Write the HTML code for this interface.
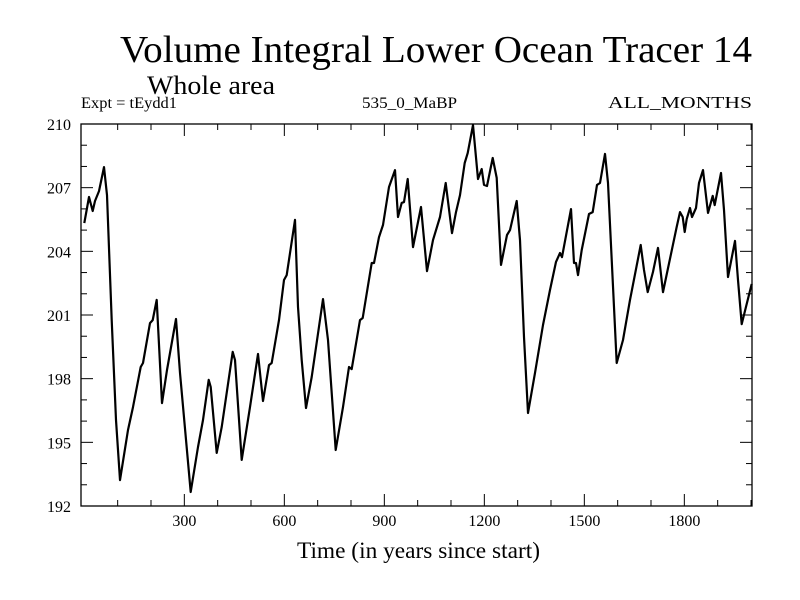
<!DOCTYPE html>
<html><head><meta charset="utf-8"><style>
html,body{margin:0;padding:0;background:#fff}
svg{display:block;font-family:"Liberation Serif",serif}
</style></head><body>
<svg id="chart" width="800" height="600" viewBox="0 0 800 600" xmlns="http://www.w3.org/2000/svg">
<rect x="0" y="0" width="800" height="600" fill="#fff"/>
<text x="120" y="62" textLength="632" lengthAdjust="spacingAndGlyphs" font-size="38">Volume Integral Lower Ocean Tracer 14</text>
<text x="147" y="94" textLength="128" lengthAdjust="spacingAndGlyphs" font-size="26">Whole area</text>
<text x="81" y="108" textLength="96" lengthAdjust="spacingAndGlyphs" font-size="16">Expt = tEydd1</text>
<text x="362" y="108" textLength="95" lengthAdjust="spacingAndGlyphs" font-size="16">535_0_MaBP</text>
<text x="608" y="108" textLength="144" lengthAdjust="spacingAndGlyphs" font-size="17">ALL_MONTHS</text>
<g id="axes"></g>
<g id="series"></g>
<text x="297" y="558" textLength="243" lengthAdjust="spacingAndGlyphs" font-size="23">Time (in years since start)</text>
</svg>
<script>
const years=[0,14,25,32,44,59,68,82,95,107,131,146,169,176,197,205,217,233,248,275,287,319,341,356,373,379,397,412,445,452,472,497,521,536,554,562,584,599,607,632,641,652,665,682,716,731,754,776,794,802,827,835,862,869,884,896,914,932,941,952,959,970,986,1010,1028,1046,1067,1084,1103,1115,1127,1141,1150,1166,1181,1192,1199,1208,1225,1237,1250,1268,1277,1297,1307,1319,1331,1352,1376,1397,1415,1427,1433,1460,1469,1475,1481,1492,1514,1525,1538,1547,1562,1571,1597,1616,1637,1669,1679,1690,1706,1721,1736,1748,1777,1787,1795,1801,1807,1817,1823,1835,1844,1856,1871,1885,1891,1910,1919,1931,1952,1961,1972,1984,2002];
const values=[205.33,206.56,205.90,206.37,206.84,207.97,206.65,200.76,196.05,193.22,195.58,196.66,198.55,198.74,200.62,200.76,201.71,196.85,198.41,200.81,198.27,192.66,194.78,196.05,197.94,197.61,194.50,195.72,199.26,198.88,194.17,196.66,199.16,196.95,198.64,198.74,200.76,202.65,202.88,205.48,201.38,198.88,196.62,198.08,201.75,199.82,194.64,196.66,198.55,198.45,200.76,200.86,203.45,203.45,204.67,205.24,207.03,207.83,205.62,206.28,206.32,207.41,204.20,206.09,203.07,204.53,205.62,207.22,204.86,205.85,206.65,208.16,208.63,209.95,207.41,207.88,207.13,207.08,208.40,207.46,203.36,204.77,205.00,206.37,204.53,199.96,196.38,198.27,200.53,202.18,203.50,203.92,203.73,205.99,203.45,203.45,202.88,204.06,205.76,205.85,207.13,207.22,208.59,207.22,198.74,199.82,201.71,204.30,203.12,202.08,203.03,204.16,202.08,202.98,205.15,205.85,205.62,204.91,205.52,206.04,205.62,206.04,207.22,207.83,205.81,206.61,206.18,207.69,205.95,202.79,204.49,202.65,200.57,201.33,202.46];
const xTickLabels=[300,600,900,1200,1500,1800];
const yTickLabels=[192,195,198,201,204,207,210];
const L=81,R=752,T=124,B=506,X0=-10,X1=2003,Y0=192,Y1=210;
const sx=v=>L+(v-X0)/(X1-X0)*(R-L);
const sy=v=>B-(v-Y0)/(Y1-Y0)*(B-T);
const NS="http://www.w3.org/2000/svg";
const axes=document.getElementById('axes');
function mk(tag,attrs,parent){const e=document.createElementNS(NS,tag);for(const k in attrs)e.setAttribute(k,attrs[k]);parent.appendChild(e);return e;}
const frame=mk('rect',{x:L,y:T,width:R-L,height:B-T,fill:'none',stroke:'#000','stroke-width':1.3},axes);


for(let yr=100;yr<X1;yr+=100){
  const big=yr%300===0, len=big?12:6, x=sx(yr);
  const t1=mk('line',{x1:x,x2:x,y1:B,y2:B-len,stroke:'#000','stroke-width':1},axes);
  
  
  const t2=mk('line',{x1:x,x2:x,y1:T,y2:T+len,stroke:'#000','stroke-width':1},axes);
  
  
}
for(let v=Y0+1;v<Y1;v++){
  const big=(v-Y0)%3===0, len=big?12:6, y=sy(v);
  const t1=mk('line',{x1:L,x2:L+len,y1:y,y2:y,stroke:'#000','stroke-width':1},axes);
  
  
  const t2=mk('line',{x1:R,x2:R-len,y1:y,y2:y,stroke:'#000','stroke-width':1},axes);
  
  
}
xTickLabels.forEach(v=>{
  const t=mk('text',{x:sx(v),y:B+20,'text-anchor':'middle','font-size':16},axes);
  t.textContent=v;
  
  
});
yTickLabels.forEach(v=>{
  const t=mk('text',{x:L-10,y:sy(v)+6,'text-anchor':'end','font-size':16},axes);
  t.textContent=v;
  
  
});
const d=years.map((y,i)=>(i?'L':'M')+sx(y).toFixed(1)+','+sy(values[i]).toFixed(1)).join('');
const p=mk('path',{d:d,fill:'none',stroke:'#000','stroke-width':2.2,'stroke-linejoin':'round'},document.getElementById('series'));


</script>
</body></html>
